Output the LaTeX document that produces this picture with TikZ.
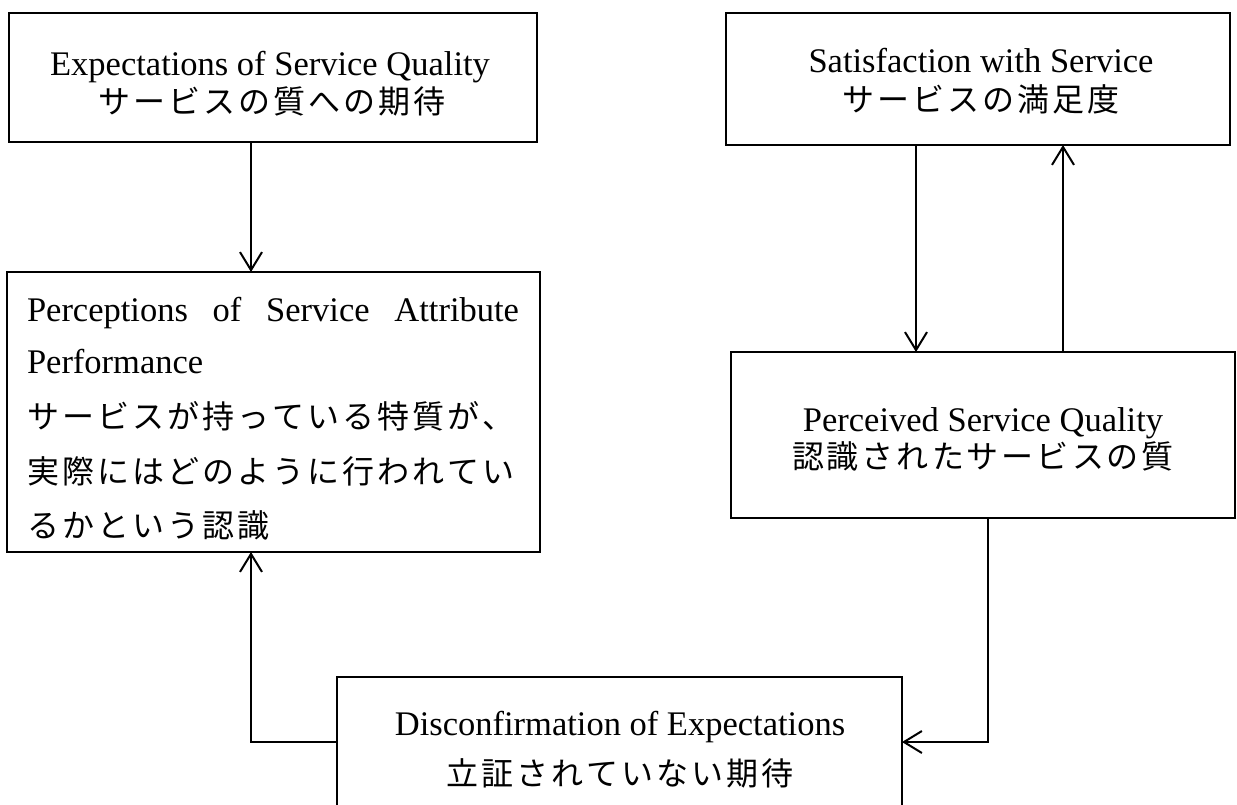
\documentclass[tikz,border=0pt]{standalone}
\usepackage{fontspec}
\setmainfont{Liberation Serif}
\newfontfamily\jpfont{Noto Sans CJK JP}
\usetikzlibrary{arrows.meta}
% set Japanese text on a fixed character grid
\newcommand\jgrid[1]{\jgridstep#1\relax}
\def\jgridstep#1{\ifx\relax#1\else\makebox[17.5pt]{#1}\expandafter\jgridstep\fi}
\begin{document}
\begin{tikzpicture}[x=0.5pt,y=-0.5pt,
  box/.style={draw, line width=1pt, inner sep=0pt, outer sep=0pt},
  txt/.style={inner sep=0pt, outer sep=0pt, anchor=base,
    font=\fontsize{17.25pt}{20pt}\selectfont},
  jtxt/.style={txt, font=\fontsize{16pt}{20pt}\selectfont\jpfont},
  ltxt/.style={txt, anchor=base west},
  ljtxt/.style={jtxt, anchor=base west},
  link/.style={line width=1pt},
  arr/.style={link, -{Straight Barb[length=9pt,width=11pt,line width=1pt]}}]
\clip (0,0) rectangle (1237,804);
\useasboundingbox (0,0) rectangle (1237,804);

% boxes
\node[box, minimum width=264pt, minimum height=64.5pt] (exp) at (273,77.5) {};
\node[box, minimum width=252pt, minimum height=66pt] (sat) at (978,79) {};
\node[box, minimum width=266.5pt, minimum height=140pt] (perc) at (273.5,412) {};
\node[box, minimum width=252pt, minimum height=83pt] (pq) at (983,435) {};
\node[box, minimum width=282.5pt, minimum height=91.5pt] (disc) at (619.5,768.5) {};

% box texts
\node[txt] (exp1) at (270,75) {Expectations of Service Quality};
\node[jtxt] (exp2) at (272,113) {\jgrid{サービスの質への期待}};

\node[txt] (sat1) at (981,72) {Satisfaction with Service};
\node[jtxt] (sat2) at (981,111) {\jgrid{サービスの満足度}};

\node[ltxt] (perc1) at (27,321) {\makebox[246pt][s]{Perceptions of Service Attribute}};
\node[ltxt] (perc2) at (27,373) {Performance};
\node[ljtxt] (perc3) at (26,428) {\jgrid{サービスが持っている特質が、}};
\node[ljtxt] (perc4) at (26,483) {\jgrid{実際にはどのように行われてい}};
\node[ljtxt] (perc5) at (26,537) {\jgrid{るかという認識}};

\node[txt] (pq1) at (983,431) {Perceived Service Quality};
\node[jtxt] (pq2) at (983,468) {\jgrid{認識されたサービスの質}};

\node[txt] (disc1) at (620,735) {Disconfirmation of Expectations};
\node[jtxt] (disc2) at (620,785) {\jgrid{立証されていない期待}};

% connector positions
\coordinate (xl) at (251,0);
\coordinate (xd) at (916,0);
\coordinate (xu) at (1063,0);
\coordinate (xr) at (988,0);
\coordinate (yb) at (0,742);

% connectors
\draw[arr] (exp.south -| xl) -- (perc.north -| xl);
\draw[arr] (sat.south -| xd) -- (pq.north -| xd);
\draw[arr] (pq.north -| xu) -- (sat.south -| xu);
\draw[arr] (pq.south -| xr) |- (disc.east |- yb);
\draw[arr] (disc.west |- yb) -| (perc.south -| xl);
\end{tikzpicture}
\end{document}
